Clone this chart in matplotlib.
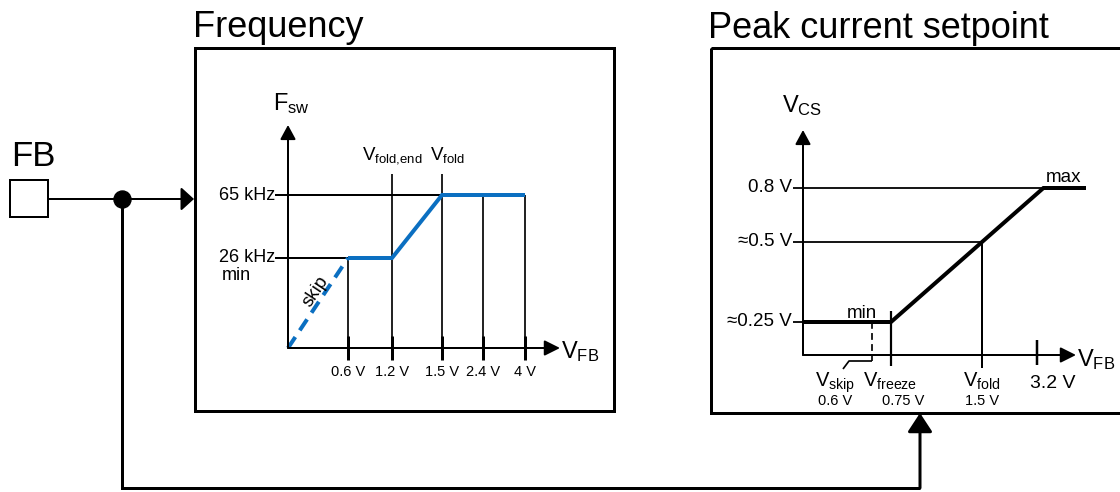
import numpy as np
import matplotlib.pyplot as plt
from matplotlib.patches import Rectangle

plt.rcParams['font.family'] = ['Liberation Sans', 'DejaVu Sans']
plt.rcParams['mathtext.fontset'] = 'custom'
plt.rcParams['mathtext.rm'] = 'Liberation Sans'

# --- switching frequency vs FB ---
freq_tick_v = [0.6, 1.2, 1.5, 2.4, 4.0]
freq_tick_labels = ['0.6 V', '1.2 V', '1.5 V', '2.4 V', '4 V']
freq_level_khz = [65, 26]
freq_level_labels = ['65 kHz', '26 kHz']
fsw_v = [0.6, 1.2, 1.5, 4.0]
fsw_khz = [26, 26, 65, 65]
skip_v = [0.0, 0.6]
skip_khz = [0, 26]
fold_v = [1.2, 1.5]
fold_names = ['fold{,}end', 'fold']

# --- peak current setpoint vs FB ---
cs_level_v = [0.8, 0.5, 0.25]
cs_level_labels = ['0.8 V', '≈0.5 V', '≈0.25 V']
cs_mark_v = [0.6, 0.75, 1.5]
cs_mark_names = ['skip', 'freeze', 'fold']
cs_mark_labels = ['0.6 V', '0.75 V', '1.5 V']
cs_limit_v = 3.2
vcs_v = [0.0, 0.75, 1.5]
vcs_level = [0.25, 0.25, 0.5]
vcs_max = 0.8

# sketch axes are not to scale: piecewise value -> pixel maps
FREQ_XS = ([0.0, 0.6, 1.2, 1.5, 2.4, 4.0], [288, 348, 392, 442, 483, 525])
FREQ_YS = ([0, 26, 65], [348, 258, 195])
CS_XS = ([0.0, 0.6, 0.75, 1.5, 3.2], [803, 872, 891, 982, 1037])
CS_YS = ([0.0, 0.25, 0.5, 0.8], [355, 322, 242, 188])


def fx(v):
    return np.interp(v, *FREQ_XS)


def fy(k):
    return np.interp(k, *FREQ_YS)


def cx(v):
    return np.interp(v, *CS_XS)


def cy(v):
    return np.interp(v, *CS_YS)


K = 'black'
BLUE = '#0b6fc1'
PT = 0.72  # points per pixel at 100 dpi

fig = plt.figure(figsize=(11.2, 4.92), dpi=100)
ax = fig.add_axes([0, 0, 1, 1])
ax.set_xlim(0, 1120)
ax.set_ylim(492, 0)
ax.axis('off')


def line(xs, ys, lw, **kw):
    ax.plot(xs, ys, color=kw.pop('color', K), lw=lw * PT, solid_capstyle='butt', **kw)


def arrow(x0, y0, x1, y1, lw, head_len, head_w):
    ms = 10
    style = f'-|>,head_length={head_len * PT / ms:.3f},head_width={head_w * PT / 2 / ms:.3f}'
    ax.annotate('', xy=(x1, y1), xytext=(x0, y0),
                arrowprops=dict(arrowstyle=style, mutation_scale=ms, lw=lw * PT,
                                color=K, shrinkA=0, shrinkB=0))


def sub_text(x, y, main, sub, size, **kw):
    ax.text(x, y, rf'$\mathrm{{{main}_{{{sub}}}}}$', fontsize=size, va='baseline', **kw)


# ---------------- FB pin and routing ----------------
ax.text(11, 166, 'FB', fontsize=25, va='baseline')
ax.add_patch(Rectangle((10, 180), 38, 37, fill=False, lw=2 * PT, ec=K))
arrow(48, 199, 194, 199, 2, 11, 20)
ax.plot(122, 199, 'o', color=K, ms=17 * PT)
line([122, 122, 920], [199, 488, 488], 3, solid_joinstyle='miter')
arrow(920, 488, 920, 413, 3, 16, 21)

# ---------------- frequency block ----------------
ax.text(193, 37, 'Frequency', fontsize=26, va='baseline')
ax.add_patch(Rectangle((195, 48), 419, 363, fill=False, lw=3 * PT, ec=K))

ox, oy = fx(0), fy(0)
arrow(ox, oy, ox, 125, 2, 12, 13)
arrow(ox, oy, 560, oy, 2, 13, 13)
sub_text(273, 110, 'F', 'sw', 17)
sub_text(561, 358, 'V', 'FB', 17)

for k, lab in zip(freq_level_khz, freq_level_labels):
    right = fx(np.interp(k, fsw_khz, fsw_v))
    line([ox - 13, right], [fy(k), fy(k)], 2)
    ax.text(ox - 13, fy(k), lab, fontsize=13, ha='right', va='center')
ax.text(222, fy(26) + 17, 'min', fontsize=13, va='center')

for v, lab in zip(freq_tick_v, freq_tick_labels):
    top = 174 if v in fold_v else fy(np.interp(v, fsw_v, fsw_khz))
    line([fx(v), fx(v)], [top, oy + 12], 1.7)
    line([fx(v), fx(v)], [oy - 12, oy + 12], 3)
    ax.text(fx(v), 372, lab, fontsize=10.5, ha='center', va='center')

for v, name in zip(fold_v, fold_names):
    sub_text(fx(v) - 30 if v == 1.2 else fx(v) - 12, 160, 'V', name, 13.5)

ax.plot(fx(fsw_v), fy(fsw_khz), color=BLUE, lw=4 * PT, solid_joinstyle='miter',
        solid_capstyle='butt')
ax.plot(fx(skip_v), fy(skip_khz), color=BLUE, lw=4 * PT, dashes=(3.3, 2.0))
sx, sy = fx(skip_v), fy(skip_khz)
ang = np.degrees(np.arctan2(sy[0] - sy[1], sx[1] - sx[0]))
ax.text(sx.mean() - 2, sy.mean() - 11, 'skip', fontsize=13.5, rotation=ang,
        rotation_mode='anchor', ha='center', va='center')

# ---------------- peak current block ----------------
ax.text(708, 38, 'Peak current setpoint', fontsize=26, va='baseline')
ax.add_patch(Rectangle((711, 48), 430, 365, fill=False, lw=3 * PT, ec=K))

px0, py0 = cx(0), cy(0)
arrow(px0, py0, px0, 130, 2, 12, 13)
arrow(px0, py0, 1076, py0, 2, 13, 13)
sub_text(782, 112, 'V', 'CS', 17)
sub_text(1077, 366, 'V', 'FB', 17)

# corner where the ramp reaches the max level
r_x, r_y = cx(vcs_v[-2:]), cy(vcs_level[-2:])
corner_x = r_x[0] + (cy(vcs_max) - r_y[0]) / (r_y[1] - r_y[0]) * (r_x[1] - r_x[0])
max_end = 1086

for v, lab in zip(cs_level_v, cs_level_labels):
    if v == vcs_max:
        right = corner_x
    elif v in vcs_level[1:]:
        right = cx(vcs_v[vcs_level.index(v, 1)]) if v != vcs_level[0] else px0
    else:
        right = px0
    line([px0 - 10, right], [cy(v), cy(v)], 1.8)
    ax.text(px0 - 11, cy(v), lab, fontsize=13.5, ha='right', va='center')

# thresholds on the FB axis
skip_x, frz_x, fold_x = cx(cs_mark_v)
ax.plot([skip_x, skip_x], [cy(vcs_level[0]), py0 + 6], color=K, lw=1.7 * PT,
        dashes=(4, 2.5))
line([skip_x, 849, 843], [py0 + 6, py0 + 6, py0 + 14], 1.7)
line([frz_x, frz_x], [cy(vcs_level[0]) - 11, py0 + 11], 2.2)
line([fold_x, fold_x], [cy(vcs_level[-1]), py0 + 13], 2)
line([cx(cs_limit_v)] * 2, [py0 - 15, py0 + 10], 2.5)
ax.text(1053, 383, f'{cs_limit_v:g} V', fontsize=14, ha='center', va='center')

label_x = [835, 890, 982]
value_x = [835, 903, 982]
for lx, vx, name, lab in zip(label_x, value_x, cs_mark_names, cs_mark_labels):
    sub_text(lx, 387, 'V', name, 14.5, ha='center')
    ax.text(vx, 401, lab, fontsize=10.5, ha='center', va='center')

ax.plot(list(cx(vcs_v)) + [corner_x, max_end],
        list(cy(vcs_level)) + [cy(vcs_max)] * 2,
        color=K, lw=4 * PT, solid_joinstyle='miter', solid_capstyle='butt')
ax.text(862, 313, 'min', fontsize=13.5, ha='center', va='center')
ax.text(1064, 177, 'max', fontsize=13.5, ha='center', va='center')

fig.savefig('out.png', dpi=100)
